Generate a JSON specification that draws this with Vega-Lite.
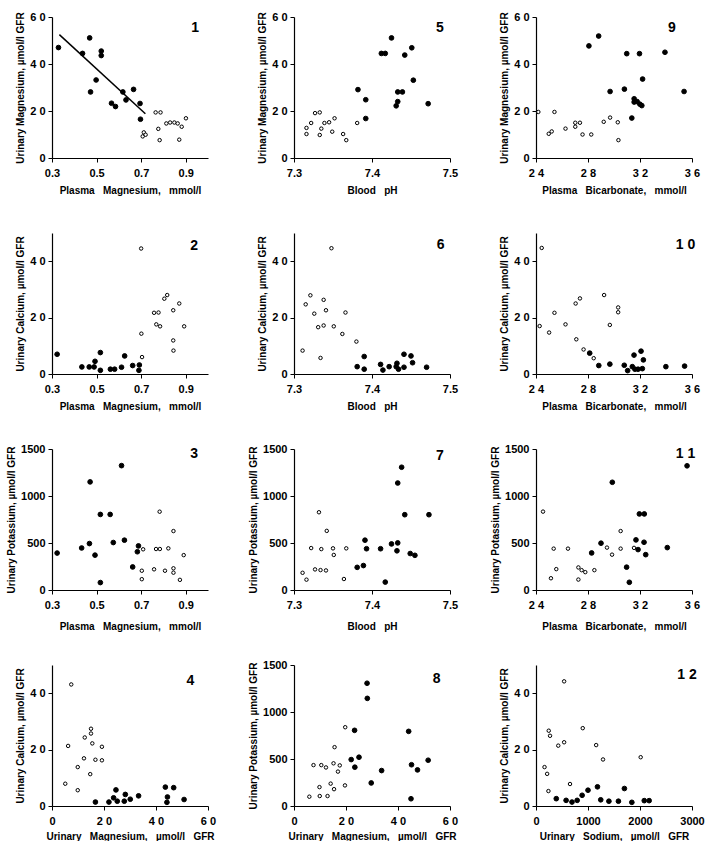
{
  "$schema": "https://vega.github.io/schema/vega-lite/v6.json",
  "background": "white",
  "padding": {"left": 6, "top": 11, "right": 0, "bottom": 0},
  "bounds": "flush",
  "columns": 3,
  "spacing": {"row": 75, "column": 86},
  "config": {
    "view": {"stroke": null},
    "font": "Liberation Sans",
    "axis": {
      "grid": false,
      "domainColor": "black",
      "domainWidth": 1.2,
      "tickColor": "black",
      "tickSize": 4,
      "labelFont": "Liberation Sans",
      "labelFontWeight": "bold",
      "labelFontSize": 11,
      "labelColor": "black",
      "labelPadding": 3,
      "titleFont": "Liberation Sans",
      "titleFontWeight": "bold",
      "titleFontSize": 10,
      "titleColor": "black",
      "labelOverlap": false,
      "labelFlush": false
    },
    "axisX": {"labelPadding": 5, "titlePadding": 7}
  },
  "datasets": {
    "p1": [
      {"x":0.329,"y":47.0,"t":"f"},{"x":0.437,"y":44.5,"t":"f"},{"x":0.469,"y":51.1,"t":"f"},{"x":0.473,"y":28.1,"t":"f"},{"x":0.498,"y":33.2,"t":"f"},{"x":0.521,"y":45.5,"t":"f"},{"x":0.521,"y":43.6,"t":"f"},{"x":0.567,"y":23.3,"t":"f"},{"x":0.585,"y":21.9,"t":"f"},{"x":0.618,"y":28.1,"t":"f"},{"x":0.632,"y":24.7,"t":"f"},{"x":0.666,"y":29.2,"t":"f"},{"x":0.695,"y":23.2,"t":"f"},{"x":0.697,"y":16.5,"t":"f"},
      {"x":0.707,"y":9.2,"t":"o"},{"x":0.712,"y":10.9,"t":"o"},{"x":0.72,"y":9.9,"t":"o"},{"x":0.765,"y":19.4,"t":"o"},{"x":0.787,"y":19.4,"t":"o"},{"x":0.777,"y":12.4,"t":"o"},{"x":0.783,"y":7.6,"t":"o"},{"x":0.813,"y":14.7,"t":"o"},{"x":0.83,"y":15.1,"t":"o"},{"x":0.849,"y":15.1,"t":"o"},{"x":0.864,"y":14.7,"t":"o"},{"x":0.871,"y":7.8,"t":"o"},{"x":0.882,"y":13.3,"t":"o"},{"x":0.901,"y":16.9,"t":"o"}
    ],
    "reg": [{"x":0.333,"y":52.5},{"x":0.719,"y":18.8}],
    "p5": [
      {"x":7.316,"y":12.8,"t":"o"},{"x":7.316,"y":10.2,"t":"o"},{"x":7.322,"y":14.9,"t":"o"},{"x":7.327,"y":19.1,"t":"o"},{"x":7.333,"y":19.4,"t":"o"},{"x":7.333,"y":9.8,"t":"o"},{"x":7.335,"y":12.5,"t":"o"},{"x":7.339,"y":14.9,"t":"o"},{"x":7.345,"y":15.2,"t":"o"},{"x":7.349,"y":11.2,"t":"o"},{"x":7.352,"y":16.9,"t":"o"},{"x":7.363,"y":10.2,"t":"o"},{"x":7.367,"y":7.6,"t":"o"},{"x":7.381,"y":14.9,"t":"o"},
      {"x":7.382,"y":29.1,"t":"f"},{"x":7.392,"y":24.8,"t":"f"},{"x":7.392,"y":16.8,"t":"f"},{"x":7.412,"y":44.5,"t":"f"},{"x":7.417,"y":44.5,"t":"f"},{"x":7.425,"y":51.1,"t":"f"},{"x":7.431,"y":22.2,"t":"f"},{"x":7.433,"y":24.0,"t":"f"},{"x":7.433,"y":28.1,"t":"f"},{"x":7.439,"y":28.1,"t":"f"},{"x":7.442,"y":43.8,"t":"f"},{"x":7.451,"y":46.9,"t":"f"},{"x":7.453,"y":33.1,"t":"f"},{"x":7.472,"y":23.1,"t":"f"}
    ],
    "p9": [
      {"x":24.18,"y":19.6,"t":"o"},{"x":24.98,"y":10.3,"t":"o"},{"x":25.21,"y":11.3,"t":"o"},{"x":25.42,"y":19.6,"t":"o"},{"x":26.27,"y":12.5,"t":"o"},{"x":27.02,"y":15.0,"t":"o"},{"x":27.02,"y":13.3,"t":"o"},{"x":27.38,"y":15.0,"t":"o"},{"x":27.58,"y":10.0,"t":"o"},{"x":28.25,"y":10.0,"t":"o"},{"x":29.21,"y":15.4,"t":"o"},{"x":29.7,"y":17.2,"t":"o"},{"x":30.29,"y":15.2,"t":"o"},{"x":30.34,"y":7.6,"t":"o"},
      {"x":28.07,"y":47.7,"t":"f"},{"x":28.82,"y":51.9,"t":"f"},{"x":29.7,"y":28.3,"t":"f"},{"x":30.8,"y":29.3,"t":"f"},{"x":30.98,"y":44.4,"t":"f"},{"x":31.37,"y":17.0,"t":"f"},{"x":31.55,"y":25.2,"t":"f"},{"x":31.55,"y":23.8,"t":"f"},{"x":31.78,"y":24.0,"t":"f"},{"x":31.96,"y":44.4,"t":"f"},{"x":31.99,"y":22.9,"t":"f"},{"x":32.14,"y":22.3,"t":"f"},{"x":32.2,"y":33.6,"t":"f"},{"x":33.92,"y":45.0,"t":"f"},{"x":35.39,"y":28.3,"t":"f"}
    ],
    "p2": [
      {"x":0.323,"y":7.0,"t":"f"},{"x":0.434,"y":2.5,"t":"f"},{"x":0.467,"y":2.5,"t":"f"},{"x":0.489,"y":2.5,"t":"f"},{"x":0.493,"y":4.5,"t":"f"},{"x":0.517,"y":7.6,"t":"f"},{"x":0.517,"y":1.3,"t":"f"},{"x":0.562,"y":1.7,"t":"f"},{"x":0.581,"y":1.7,"t":"f"},{"x":0.612,"y":2.4,"t":"f"},{"x":0.626,"y":6.4,"t":"f"},{"x":0.662,"y":3.0,"t":"f"},{"x":0.69,"y":1.3,"t":"f"},{"x":0.692,"y":3.2,"t":"f"},
      {"x":0.7,"y":44.5,"t":"o"},{"x":0.701,"y":14.3,"t":"o"},{"x":0.704,"y":6.0,"t":"o"},{"x":0.758,"y":21.7,"t":"o"},{"x":0.768,"y":17.6,"t":"o"},{"x":0.778,"y":21.8,"t":"o"},{"x":0.785,"y":16.9,"t":"o"},{"x":0.804,"y":26.7,"t":"o"},{"x":0.817,"y":28.0,"t":"o"},{"x":0.844,"y":22.6,"t":"o"},{"x":0.844,"y":11.9,"t":"o"},{"x":0.845,"y":8.3,"t":"o"},{"x":0.871,"y":25.0,"t":"o"},{"x":0.893,"y":16.9,"t":"o"}
    ],
    "p6": [
      {"x":7.311,"y":8.3,"t":"o"},{"x":7.315,"y":24.7,"t":"o"},{"x":7.321,"y":27.9,"t":"o"},{"x":7.326,"y":21.4,"t":"o"},{"x":7.331,"y":16.6,"t":"o"},{"x":7.334,"y":5.7,"t":"o"},{"x":7.338,"y":17.2,"t":"o"},{"x":7.338,"y":26.3,"t":"o"},{"x":7.341,"y":22.6,"t":"o"},{"x":7.348,"y":44.6,"t":"o"},{"x":7.351,"y":16.9,"t":"o"},{"x":7.362,"y":14.2,"t":"o"},{"x":7.366,"y":21.8,"t":"o"},{"x":7.38,"y":11.5,"t":"o"},
      {"x":7.381,"y":2.6,"t":"f"},{"x":7.39,"y":6.2,"t":"f"},{"x":7.39,"y":1.7,"t":"f"},{"x":7.411,"y":3.4,"t":"f"},{"x":7.414,"y":1.4,"t":"f"},{"x":7.422,"y":2.6,"t":"f"},{"x":7.431,"y":2.6,"t":"f"},{"x":7.432,"y":3.8,"t":"f"},{"x":7.434,"y":1.7,"t":"f"},{"x":7.441,"y":2.4,"t":"f"},{"x":7.441,"y":7.0,"t":"f"},{"x":7.45,"y":6.4,"t":"f"},{"x":7.452,"y":4.0,"t":"f"},{"x":7.47,"y":2.4,"t":"f"}
    ],
    "p10": [
      {"x":24.28,"y":17.0,"t":"o"},{"x":24.44,"y":44.7,"t":"o"},{"x":25.01,"y":14.7,"t":"o"},{"x":25.42,"y":21.7,"t":"o"},{"x":26.27,"y":17.6,"t":"o"},{"x":27.05,"y":25.0,"t":"o"},{"x":27.1,"y":12.3,"t":"o"},{"x":27.38,"y":26.8,"t":"o"},{"x":27.66,"y":8.7,"t":"o"},{"x":28.44,"y":5.6,"t":"o"},{"x":29.24,"y":28.0,"t":"o"},{"x":29.68,"y":17.4,"t":"o"},{"x":30.32,"y":23.6,"t":"o"},{"x":30.32,"y":21.9,"t":"o"},
      {"x":28.13,"y":7.4,"t":"f"},{"x":28.83,"y":3.0,"t":"f"},{"x":29.68,"y":3.5,"t":"f"},{"x":30.79,"y":3.1,"t":"f"},{"x":31.05,"y":1.2,"t":"f"},{"x":31.41,"y":2.6,"t":"f"},{"x":31.54,"y":6.7,"t":"f"},{"x":31.61,"y":1.7,"t":"f"},{"x":31.85,"y":1.7,"t":"f"},{"x":32.08,"y":8.1,"t":"f"},{"x":32.18,"y":1.9,"t":"f"},{"x":32.26,"y":5.0,"t":"f"},{"x":33.99,"y":2.6,"t":"f"},{"x":35.43,"y":2.8,"t":"f"}
    ],
    "p3": [
      {"x":0.323,"y":393,"t":"f"},{"x":0.433,"y":447,"t":"f"},{"x":0.471,"y":1150,"t":"f"},{"x":0.468,"y":494,"t":"f"},{"x":0.493,"y":371,"t":"f"},{"x":0.517,"y":804,"t":"f"},{"x":0.517,"y":79,"t":"f"},{"x":0.561,"y":804,"t":"f"},{"x":0.575,"y":505,"t":"f"},{"x":0.612,"y":1323,"t":"f"},{"x":0.625,"y":530,"t":"f"},{"x":0.662,"y":245,"t":"f"},{"x":0.683,"y":407,"t":"f"},{"x":0.688,"y":469,"t":"f"},
      {"x":0.709,"y":433,"t":"o"},{"x":0.703,"y":205,"t":"o"},{"x":0.703,"y":115,"t":"o"},{"x":0.758,"y":220,"t":"o"},{"x":0.767,"y":436,"t":"o"},{"x":0.784,"y":436,"t":"o"},{"x":0.783,"y":833,"t":"o"},{"x":0.807,"y":205,"t":"o"},{"x":0.822,"y":443,"t":"o"},{"x":0.845,"y":627,"t":"o"},{"x":0.845,"y":231,"t":"o"},{"x":0.845,"y":184,"t":"o"},{"x":0.874,"y":108,"t":"o"},{"x":0.891,"y":371,"t":"o"}
    ],
    "p7": [
      {"x":7.311,"y":183,"t":"o"},{"x":7.316,"y":110,"t":"o"},{"x":7.322,"y":446,"t":"o"},{"x":7.327,"y":219,"t":"o"},{"x":7.332,"y":827,"t":"o"},{"x":7.334,"y":212,"t":"o"},{"x":7.335,"y":435,"t":"o"},{"x":7.341,"y":208,"t":"o"},{"x":7.342,"y":629,"t":"o"},{"x":7.35,"y":443,"t":"o"},{"x":7.351,"y":373,"t":"o"},{"x":7.364,"y":117,"t":"o"},{"x":7.367,"y":443,"t":"o"},
      {"x":7.381,"y":241,"t":"f"},{"x":7.389,"y":260,"t":"f"},{"x":7.391,"y":530,"t":"f"},{"x":7.393,"y":439,"t":"f"},{"x":7.411,"y":439,"t":"f"},{"x":7.417,"y":84,"t":"f"},{"x":7.425,"y":490,"t":"f"},{"x":7.432,"y":417,"t":"f"},{"x":7.433,"y":501,"t":"f"},{"x":7.433,"y":1138,"t":"f"},{"x":7.438,"y":1306,"t":"f"},{"x":7.442,"y":801,"t":"f"},{"x":7.449,"y":388,"t":"f"},{"x":7.455,"y":369,"t":"f"},{"x":7.473,"y":801,"t":"f"}
    ],
    "p11": [
      {"x":24.54,"y":834,"t":"o"},{"x":25.15,"y":125,"t":"o"},{"x":25.36,"y":440,"t":"o"},{"x":25.56,"y":222,"t":"o"},{"x":26.46,"y":440,"t":"o"},{"x":27.26,"y":240,"t":"o"},{"x":27.26,"y":111,"t":"o"},{"x":27.51,"y":211,"t":"o"},{"x":27.79,"y":190,"t":"o"},{"x":28.49,"y":211,"t":"o"},{"x":29.46,"y":451,"t":"o"},{"x":29.85,"y":376,"t":"o"},{"x":30.51,"y":627,"t":"o"},{"x":30.51,"y":440,"t":"o"},{"x":31.54,"y":448,"t":"o"},
      {"x":28.28,"y":394,"t":"f"},{"x":29.0,"y":498,"t":"f"},{"x":29.87,"y":1146,"t":"f"},{"x":30.97,"y":243,"t":"f"},{"x":31.18,"y":82,"t":"f"},{"x":31.69,"y":533,"t":"f"},{"x":31.85,"y":430,"t":"f"},{"x":31.95,"y":809,"t":"f"},{"x":32.33,"y":809,"t":"f"},{"x":32.31,"y":508,"t":"f"},{"x":32.44,"y":376,"t":"f"},{"x":34.1,"y":451,"t":"f"},{"x":35.62,"y":1321,"t":"f"}
    ],
    "p4": [
      {"x":5.1,"y":7.9,"t":"o"},{"x":6.2,"y":21.3,"t":"o"},{"x":9.9,"y":5.6,"t":"o"},{"x":9.9,"y":13.8,"t":"o"},{"x":7.4,"y":43.1,"t":"o"},{"x":12.3,"y":16.9,"t":"o"},{"x":12.6,"y":24.3,"t":"o"},{"x":14.7,"y":11.3,"t":"o"},{"x":15.0,"y":27.4,"t":"o"},{"x":15.0,"y":25.7,"t":"o"},{"x":15.5,"y":22.2,"t":"o"},{"x":16.7,"y":16.4,"t":"o"},{"x":19.2,"y":21.0,"t":"o"},{"x":19.2,"y":16.2,"t":"o"},
      {"x":16.7,"y":1.4,"t":"f"},{"x":21.9,"y":1.4,"t":"f"},{"x":23.7,"y":2.9,"t":"f"},{"x":24.6,"y":5.7,"t":"f"},{"x":25.1,"y":1.7,"t":"f"},{"x":27.8,"y":1.7,"t":"f"},{"x":28.2,"y":4.1,"t":"f"},{"x":30.1,"y":2.4,"t":"f"},{"x":33.3,"y":3.6,"t":"f"},{"x":43.6,"y":6.7,"t":"f"},{"x":44.4,"y":3.2,"t":"f"},{"x":44.2,"y":1.3,"t":"f"},{"x":46.8,"y":6.5,"t":"f"},{"x":50.8,"y":2.3,"t":"f"}
    ],
    "p8": [
      {"x":5.9,"y":99,"t":"o"},{"x":7.5,"y":435,"t":"o"},{"x":9.8,"y":201,"t":"o"},{"x":9.9,"y":106,"t":"o"},{"x":10.5,"y":435,"t":"o"},{"x":12.3,"y":410,"t":"o"},{"x":12.9,"y":106,"t":"o"},{"x":14.1,"y":238,"t":"o"},{"x":15.2,"y":454,"t":"o"},{"x":15.4,"y":179,"t":"o"},{"x":15.6,"y":626,"t":"o"},{"x":16.9,"y":366,"t":"o"},{"x":17.6,"y":432,"t":"o"},{"x":19.7,"y":838,"t":"o"},{"x":19.6,"y":219,"t":"o"},
      {"x":22.0,"y":494,"t":"f"},{"x":23.3,"y":805,"t":"f"},{"x":23.4,"y":413,"t":"f"},{"x":25.0,"y":519,"t":"f"},{"x":28.1,"y":1306,"t":"f"},{"x":28.2,"y":1145,"t":"f"},{"x":29.7,"y":245,"t":"f"},{"x":33.7,"y":377,"t":"f"},{"x":44.1,"y":794,"t":"f"},{"x":45.0,"y":77,"t":"f"},{"x":45.2,"y":439,"t":"f"},{"x":47.5,"y":384,"t":"f"},{"x":51.6,"y":487,"t":"f"}
    ],
    "p12": [
      {"x":164,"y":13.8,"t":"o"},{"x":214,"y":11.4,"t":"o"},{"x":239,"y":5.3,"t":"o"},{"x":245,"y":26.7,"t":"o"},{"x":270,"y":24.9,"t":"o"},{"x":428,"y":21.4,"t":"o"},{"x":541,"y":44.2,"t":"o"},{"x":541,"y":22.6,"t":"o"},{"x":654,"y":7.8,"t":"o"},{"x":899,"y":27.6,"t":"o"},{"x":1157,"y":21.6,"t":"o"},{"x":1289,"y":16.5,"t":"o"},{"x":2013,"y":17.3,"t":"o"},
      {"x":390,"y":2.6,"t":"f"},{"x":579,"y":2.0,"t":"f"},{"x":692,"y":1.4,"t":"f"},{"x":792,"y":2.0,"t":"f"},{"x":887,"y":3.8,"t":"f"},{"x":1000,"y":5.6,"t":"f"},{"x":1182,"y":6.8,"t":"f"},{"x":1245,"y":2.2,"t":"f"},{"x":1402,"y":1.7,"t":"f"},{"x":1585,"y":1.7,"t":"f"},{"x":1700,"y":6.2,"t":"f"},{"x":1843,"y":1.3,"t":"f"},{"x":2082,"y":1.9,"t":"f"},{"x":2176,"y":1.9,"t":"f"}
    ]
  },
  "resolve": {"scale": {"x": "independent", "y": "independent"}},
  "concat": [
    {
      "width": 156, "height": 141,
      "layer": [
        {"data": {"name": "reg"}, "mark": {"type": "line", "color": "black", "strokeWidth": 1.5},
         "encoding": {"x": {"field": "x", "type": "quantitative", "scale": {"domain": [0.3, 1.0], "nice": false, "zero": false}, "axis": {"title": "Plasma\u00a0\u00a0 Magnesium,\u00a0\u00a0 mmol/l", "values": [0.3,0.4,0.5,0.6,0.7,0.8,0.9,1.0], "format": ".1f", "labelExpr": "indexof(['0.3','0.5','0.7','0.9'], datum.label) >= 0 ? datum.label : ''"}},
                      "y": {"field": "y", "type": "quantitative", "scale": {"domain": [0, 60], "nice": false}, "axis": {"title": "Urinary Magnesium, µmol/l GFR", "values": [0,10,20,30,40,50,60], "labelExpr": "datum.value % 20 == 0 ? join(split(datum.label, ''), ' ') : ''"}}}},
        {"data": {"name": "p1"}, "mark": {"type": "point", "shape": "circle", "filled": true, "strokeWidth": 1, "opacity": 1},
         "encoding": {"x": {"field": "x", "type": "quantitative"}, "y": {"field": "y", "type": "quantitative"},
                      "fill": {"field": "t", "type": "nominal", "scale": {"domain": ["f", "o"], "range": ["black", "white"]}, "legend": null},
                      "size": {"field": "t", "type": "nominal", "scale": {"domain": ["f", "o"], "range": [22, 12]}, "legend": null},
                      "stroke": {"value": "black"}}},
        {"data": {"values": [{"lab": "1"}]}, "mark": {"type": "text", "fontSize": 14, "fontWeight": "bold", "font": "Liberation Sans", "baseline": "middle"},
         "encoding": {"text": {"field": "lab"}, "x": {"datum": 0.942}, "y": {"datum": 55.4}}}
      ]
    },
    {
      "width": 156, "height": 141,
      "data": {"name": "p5"},
      "layer": [
        {"mark": {"type": "point", "shape": "circle", "filled": true, "strokeWidth": 1, "opacity": 1},
         "encoding": {"x": {"field": "x", "type": "quantitative", "scale": {"domain": [7.3, 7.5], "nice": false, "zero": false}, "axis": {"title": "Blood\u00a0\u00a0 pH", "values": [7.3,7.35,7.4,7.45,7.5], "format": ".2f", "labelExpr": "indexof(['7.30','7.40','7.50'], datum.label) >= 0 ? format(datum.value, '.1f') : ''"}},
                      "y": {"field": "y", "type": "quantitative", "scale": {"domain": [0, 60], "nice": false}, "axis": {"title": "Urinary Magnesium, µmol/l GFR", "values": [0,10,20,30,40,50,60], "labelExpr": "datum.value % 20 == 0 ? join(split(datum.label, ''), ' ') : ''"}},
                      "fill": {"field": "t", "type": "nominal", "scale": {"domain": ["f", "o"], "range": ["black", "white"]}, "legend": null},
                      "size": {"field": "t", "type": "nominal", "scale": {"domain": ["f", "o"], "range": [22, 12]}, "legend": null},
                      "stroke": {"value": "black"}}},
        {"data": {"values": [{"lab": "5"}]}, "mark": {"type": "text", "fontSize": 14, "fontWeight": "bold", "font": "Liberation Sans", "baseline": "middle"},
         "encoding": {"text": {"field": "lab"}, "x": {"datum": 7.487}, "y": {"datum": 55.3}}}
      ]
    },
    {
      "width": 156, "height": 141,
      "data": {"name": "p9"},
      "layer": [
        {"mark": {"type": "point", "shape": "circle", "filled": true, "strokeWidth": 1, "opacity": 1},
         "encoding": {"x": {"field": "x", "type": "quantitative", "scale": {"domain": [24, 36], "nice": false, "zero": false}, "axis": {"title": "Plasma\u00a0\u00a0 Bicarbonate,\u00a0\u00a0 mmol/l", "values": [24,26,28,30,32,34,36], "labelExpr": "datum.value % 4 == 0 ? join(split(datum.label, ''), ' ') : ''"}},
                      "y": {"field": "y", "type": "quantitative", "scale": {"domain": [0, 60], "nice": false}, "axis": {"title": "Urinary Magnesium, µmol/l GFR", "values": [0,10,20,30,40,50,60], "labelExpr": "datum.value % 20 == 0 ? join(split(datum.label, ''), ' ') : ''"}},
                      "fill": {"field": "t", "type": "nominal", "scale": {"domain": ["f", "o"], "range": ["black", "white"]}, "legend": null},
                      "size": {"field": "t", "type": "nominal", "scale": {"domain": ["f", "o"], "range": [22, 12]}, "legend": null},
                      "stroke": {"value": "black"}}},
        {"data": {"values": [{"lab": "9"}]}, "mark": {"type": "text", "fontSize": 14, "fontWeight": "bold", "font": "Liberation Sans", "baseline": "middle"},
         "encoding": {"text": {"field": "lab"}, "x": {"datum": 34.45}, "y": {"datum": 55.5}}}
      ]
    },
    {
      "width": 156, "height": 141,
      "data": {"name": "p2"},
      "layer": [
        {"mark": {"type": "point", "shape": "circle", "filled": true, "strokeWidth": 1, "opacity": 1},
         "encoding": {"x": {"field": "x", "type": "quantitative", "scale": {"domain": [0.3, 1.0], "nice": false, "zero": false}, "axis": {"title": "Plasma\u00a0\u00a0 Magnesium,\u00a0\u00a0 mmol/l", "values": [0.3,0.4,0.5,0.6,0.7,0.8,0.9,1.0], "format": ".1f", "labelExpr": "indexof(['0.3','0.5','0.7','0.9'], datum.label) >= 0 ? datum.label : ''"}},
                      "y": {"field": "y", "type": "quantitative", "scale": {"domain": [0, 50], "nice": false}, "axis": {"title": "Urinary Calcium, µmol/l GFR", "values": [0,10,20,30,40,50], "labelExpr": "datum.value % 20 == 0 ? join(split(datum.label, ''), ' ') : ''"}},
                      "fill": {"field": "t", "type": "nominal", "scale": {"domain": ["f", "o"], "range": ["black", "white"]}, "legend": null},
                      "size": {"field": "t", "type": "nominal", "scale": {"domain": ["f", "o"], "range": [22, 12]}, "legend": null},
                      "stroke": {"value": "black"}}},
        {"data": {"values": [{"lab": "2"}]}, "mark": {"type": "text", "fontSize": 14, "fontWeight": "bold", "font": "Liberation Sans", "baseline": "middle"},
         "encoding": {"text": {"field": "lab"}, "x": {"datum": 0.938}, "y": {"datum": 45.4}}}
      ]
    },
    {
      "width": 156, "height": 141,
      "data": {"name": "p6"},
      "layer": [
        {"mark": {"type": "point", "shape": "circle", "filled": true, "strokeWidth": 1, "opacity": 1},
         "encoding": {"x": {"field": "x", "type": "quantitative", "scale": {"domain": [7.3, 7.5], "nice": false, "zero": false}, "axis": {"title": "Blood\u00a0\u00a0 pH", "values": [7.3,7.35,7.4,7.45,7.5], "format": ".2f", "labelExpr": "indexof(['7.30','7.40','7.50'], datum.label) >= 0 ? format(datum.value, '.1f') : ''"}},
                      "y": {"field": "y", "type": "quantitative", "scale": {"domain": [0, 50], "nice": false}, "axis": {"title": "Urinary Calcium, µmol/l GFR", "values": [0,10,20,30,40,50], "labelExpr": "datum.value % 20 == 0 ? join(split(datum.label, ''), ' ') : ''"}},
                      "fill": {"field": "t", "type": "nominal", "scale": {"domain": ["f", "o"], "range": ["black", "white"]}, "legend": null},
                      "size": {"field": "t", "type": "nominal", "scale": {"domain": ["f", "o"], "range": [22, 12]}, "legend": null},
                      "stroke": {"value": "black"}}},
        {"data": {"values": [{"lab": "6"}]}, "mark": {"type": "text", "fontSize": 14, "fontWeight": "bold", "font": "Liberation Sans", "baseline": "middle"},
         "encoding": {"text": {"field": "lab"}, "x": {"datum": 7.488}, "y": {"datum": 45.7}}}
      ]
    },
    {
      "width": 156, "height": 141,
      "data": {"name": "p10"},
      "layer": [
        {"mark": {"type": "point", "shape": "circle", "filled": true, "strokeWidth": 1, "opacity": 1},
         "encoding": {"x": {"field": "x", "type": "quantitative", "scale": {"domain": [24, 36], "nice": false, "zero": false}, "axis": {"title": "Plasma\u00a0\u00a0 Bicarbonate,\u00a0\u00a0 mmol/l", "values": [24,26,28,30,32,34,36], "labelExpr": "datum.value % 4 == 0 ? join(split(datum.label, ''), ' ') : ''"}},
                      "y": {"field": "y", "type": "quantitative", "scale": {"domain": [0, 50], "nice": false}, "axis": {"title": "Urinary Calcium, µmol/l GFR", "values": [0,10,20,30,40,50], "labelExpr": "datum.value % 20 == 0 ? join(split(datum.label, ''), ' ') : ''"}},
                      "fill": {"field": "t", "type": "nominal", "scale": {"domain": ["f", "o"], "range": ["black", "white"]}, "legend": null},
                      "size": {"field": "t", "type": "nominal", "scale": {"domain": ["f", "o"], "range": [22, 12]}, "legend": null},
                      "stroke": {"value": "black"}}},
        {"data": {"values": [{"lab": "1 0"}]}, "mark": {"type": "text", "fontSize": 14, "fontWeight": "bold", "font": "Liberation Sans", "baseline": "middle"},
         "encoding": {"text": {"field": "lab"}, "x": {"datum": 35.5}, "y": {"datum": 45.7}}}
      ]
    },
    {
      "width": 156, "height": 141,
      "data": {"name": "p3"},
      "layer": [
        {"mark": {"type": "point", "shape": "circle", "filled": true, "strokeWidth": 1, "opacity": 1},
         "encoding": {"x": {"field": "x", "type": "quantitative", "scale": {"domain": [0.3, 1.0], "nice": false, "zero": false}, "axis": {"title": "Plasma\u00a0\u00a0 Magnesium,\u00a0\u00a0 mmol/l", "titlePadding": 11, "values": [0.3,0.4,0.5,0.6,0.7,0.8,0.9,1.0], "format": ".1f", "labelExpr": "indexof(['0.3','0.5','0.7','0.9'], datum.label) >= 0 ? datum.label : ''"}},
                      "y": {"field": "y", "type": "quantitative", "scale": {"domain": [0, 1500], "nice": false}, "axis": {"title": "Urinary Potassium, µmol/l GFR", "values": [0,500,1000,1500], "format": "d"}},
                      "fill": {"field": "t", "type": "nominal", "scale": {"domain": ["f", "o"], "range": ["black", "white"]}, "legend": null},
                      "size": {"field": "t", "type": "nominal", "scale": {"domain": ["f", "o"], "range": [22, 12]}, "legend": null},
                      "stroke": {"value": "black"}}},
        {"data": {"values": [{"lab": "3"}]}, "mark": {"type": "text", "fontSize": 14, "fontWeight": "bold", "font": "Liberation Sans", "baseline": "middle"},
         "encoding": {"text": {"field": "lab"}, "x": {"datum": 0.938}, "y": {"datum": 1447}}}
      ]
    },
    {
      "width": 156, "height": 141,
      "data": {"name": "p7"},
      "layer": [
        {"mark": {"type": "point", "shape": "circle", "filled": true, "strokeWidth": 1, "opacity": 1},
         "encoding": {"x": {"field": "x", "type": "quantitative", "scale": {"domain": [7.3, 7.5], "nice": false, "zero": false}, "axis": {"title": "Blood\u00a0\u00a0 pH", "titlePadding": 11, "values": [7.3,7.35,7.4,7.45,7.5], "format": ".2f", "labelExpr": "indexof(['7.30','7.40','7.50'], datum.label) >= 0 ? format(datum.value, '.1f') : ''"}},
                      "y": {"field": "y", "type": "quantitative", "scale": {"domain": [0, 1500], "nice": false}, "axis": {"title": "Urinary Potassium, µmol/l GFR", "values": [0,500,1000,1500], "format": "d"}},
                      "fill": {"field": "t", "type": "nominal", "scale": {"domain": ["f", "o"], "range": ["black", "white"]}, "legend": null},
                      "size": {"field": "t", "type": "nominal", "scale": {"domain": ["f", "o"], "range": [22, 12]}, "legend": null},
                      "stroke": {"value": "black"}}},
        {"data": {"values": [{"lab": "7"}]}, "mark": {"type": "text", "fontSize": 14, "fontWeight": "bold", "font": "Liberation Sans", "baseline": "middle"},
         "encoding": {"text": {"field": "lab"}, "x": {"datum": 7.487}, "y": {"datum": 1425}}}
      ]
    },
    {
      "width": 156, "height": 141,
      "data": {"name": "p11"},
      "layer": [
        {"mark": {"type": "point", "shape": "circle", "filled": true, "strokeWidth": 1, "opacity": 1},
         "encoding": {"x": {"field": "x", "type": "quantitative", "scale": {"domain": [24, 36], "nice": false, "zero": false}, "axis": {"title": "Plasma\u00a0\u00a0 Bicarbonate,\u00a0\u00a0 mmol/l", "titlePadding": 11, "values": [24,26,28,30,32,34,36], "labelExpr": "datum.value % 4 == 0 ? join(split(datum.label, ''), ' ') : ''"}},
                      "y": {"field": "y", "type": "quantitative", "scale": {"domain": [0, 1500], "nice": false}, "axis": {"title": "Urinary Potassium, µmol/l GFR", "values": [0,500,1000,1500], "format": "d"}},
                      "fill": {"field": "t", "type": "nominal", "scale": {"domain": ["f", "o"], "range": ["black", "white"]}, "legend": null},
                      "size": {"field": "t", "type": "nominal", "scale": {"domain": ["f", "o"], "range": [22, 12]}, "legend": null},
                      "stroke": {"value": "black"}}},
        {"data": {"values": [{"lab": "1 1"}]}, "mark": {"type": "text", "fontSize": 14, "fontWeight": "bold", "font": "Liberation Sans", "baseline": "middle"},
         "encoding": {"text": {"field": "lab"}, "x": {"datum": 35.5}, "y": {"datum": 1447}}}
      ]
    },
    {
      "width": 156, "height": 141,
      "data": {"name": "p4"},
      "layer": [
        {"mark": {"type": "point", "shape": "circle", "filled": true, "strokeWidth": 1, "opacity": 1},
         "encoding": {"x": {"field": "x", "type": "quantitative", "scale": {"domain": [0, 60], "nice": false}, "axis": {"title": "Urinary\u00a0\u00a0 Magnesium,\u00a0\u00a0 µmol/l\u00a0\u00a0 GFR", "titlePadding": 5, "values": [0,10,20,30,40,50,60], "labelExpr": "datum.value % 20 == 0 ? join(split(datum.label, ''), ' ') : ''"}},
                      "y": {"field": "y", "type": "quantitative", "scale": {"domain": [0, 50], "nice": false}, "axis": {"title": "Urinary Calcium, µmol/l GFR", "values": [0,10,20,30,40,50], "labelExpr": "datum.value % 20 == 0 ? join(split(datum.label, ''), ' ') : ''"}},
                      "fill": {"field": "t", "type": "nominal", "scale": {"domain": ["f", "o"], "range": ["black", "white"]}, "legend": null},
                      "size": {"field": "t", "type": "nominal", "scale": {"domain": ["f", "o"], "range": [22, 12]}, "legend": null},
                      "stroke": {"value": "black"}}},
        {"data": {"values": [{"lab": "4"}]}, "mark": {"type": "text", "fontSize": 14, "fontWeight": "bold", "font": "Liberation Sans", "baseline": "middle"},
         "encoding": {"text": {"field": "lab"}, "x": {"datum": 53.2}, "y": {"datum": 44.3}}}
      ]
    },
    {
      "width": 156, "height": 141,
      "data": {"name": "p8"},
      "layer": [
        {"mark": {"type": "point", "shape": "circle", "filled": true, "strokeWidth": 1, "opacity": 1},
         "encoding": {"x": {"field": "x", "type": "quantitative", "scale": {"domain": [0, 60], "nice": false}, "axis": {"title": "Urinary\u00a0\u00a0 Magnesium,\u00a0\u00a0 µmol/l\u00a0\u00a0 GFR", "titlePadding": 5, "values": [0,10,20,30,40,50,60], "labelExpr": "datum.value % 20 == 0 ? join(split(datum.label, ''), ' ') : ''"}},
                      "y": {"field": "y", "type": "quantitative", "scale": {"domain": [0, 1500], "nice": false}, "axis": {"title": "Urinary Potassium, µmol/l GFR", "values": [0,500,1000,1500], "format": "d"}},
                      "fill": {"field": "t", "type": "nominal", "scale": {"domain": ["f", "o"], "range": ["black", "white"]}, "legend": null},
                      "size": {"field": "t", "type": "nominal", "scale": {"domain": ["f", "o"], "range": [22, 12]}, "legend": null},
                      "stroke": {"value": "black"}}},
        {"data": {"values": [{"lab": "8"}]}, "mark": {"type": "text", "fontSize": 14, "fontWeight": "bold", "font": "Liberation Sans", "baseline": "middle"},
         "encoding": {"text": {"field": "lab"}, "x": {"datum": 54.9}, "y": {"datum": 1350}}}
      ]
    },
    {
      "width": 156, "height": 141,
      "data": {"name": "p12"},
      "layer": [
        {"mark": {"type": "point", "shape": "circle", "filled": true, "strokeWidth": 1, "opacity": 1},
         "encoding": {"x": {"field": "x", "type": "quantitative", "scale": {"domain": [0, 3000], "nice": false}, "axis": {"title": "Urinary\u00a0\u00a0 Sodium,\u00a0\u00a0 µmol/l\u00a0\u00a0 GFR", "titlePadding": 5, "values": [0,500,1000,1500,2000,2500,3000], "format": "d", "labelExpr": "datum.value % 1000 == 0 ? datum.label : ''"}},
                      "y": {"field": "y", "type": "quantitative", "scale": {"domain": [0, 50], "nice": false}, "axis": {"title": "Urinary Calcium, µmol/l GFR", "values": [0,10,20,30,40,50], "labelExpr": "datum.value % 20 == 0 ? join(split(datum.label, ''), ' ') : ''"}},
                      "fill": {"field": "t", "type": "nominal", "scale": {"domain": ["f", "o"], "range": ["black", "white"]}, "legend": null},
                      "size": {"field": "t", "type": "nominal", "scale": {"domain": ["f", "o"], "range": [22, 12]}, "legend": null},
                      "stroke": {"value": "black"}}},
        {"data": {"values": [{"lab": "1 2"}]}, "mark": {"type": "text", "fontSize": 14, "fontWeight": "bold", "font": "Liberation Sans", "baseline": "middle"},
         "encoding": {"text": {"field": "lab"}, "x": {"datum": 2903}, "y": {"datum": 46.4}}}
      ]
    }
  ]
}
